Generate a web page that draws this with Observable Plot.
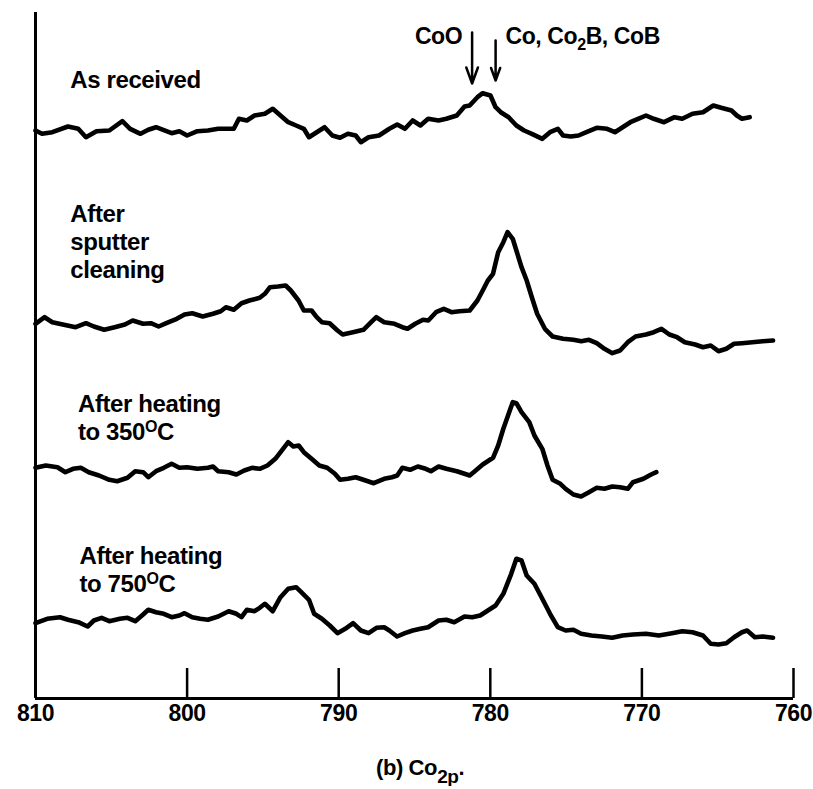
<!DOCTYPE html>
<html>
<head>
<meta charset="utf-8">
<script src="https://cdn.jsdelivr.net/npm/d3@7"></script>
<script src="https://cdn.jsdelivr.net/npm/@observablehq/plot@0.6"></script>
<style>
  html, body { margin: 0; padding: 0; background: #fff; }
  #chart { width: 813px; }
  svg text { letter-spacing: -0.4px; }
  .cap { font-family: "Liberation Sans", Arial, sans-serif; font-weight: bold; font-size: 22px; letter-spacing: -0.4px; color: #000; padding-left: 376px; margin-top: 22px; line-height: 1; }
  .cap sub { font-size: 19px; vertical-align: -8px; }
</style>
</head>
<body>
<div id="chart"></div>
<script>
// Binding energy (eV) and signal (arbitrary units, stacked for display)
const asReceivedE = [810.0, 809.57, 808.89, 807.86, 807.18, 806.67, 805.98, 805.13, 804.27, 803.76, 803.07, 802.56, 802.05, 801.02, 800.51, 800.0, 799.32, 798.63, 797.95, 796.92, 796.58, 796.06, 795.55, 794.87, 794.35, 793.84, 793.33, 792.81, 792.30, 791.96, 791.45, 790.93, 790.42, 789.91, 789.39, 788.88, 788.54, 788.03, 787.34, 786.66, 786.14, 785.63, 785.12, 784.61, 784.10, 783.41, 782.90, 782.21, 781.70, 781.36, 780.85, 780.50, 779.99, 779.65, 779.31, 778.79, 778.28, 777.77, 777.26, 776.57, 776.06, 775.54, 775.20, 774.69, 774.18, 773.66, 772.98, 772.30, 771.78, 771.27, 770.76, 770.25, 769.73, 769.22, 768.54, 767.85, 767.34, 766.66, 765.97, 765.29, 764.77, 764.09, 763.74, 763.40, 762.89];
const asReceivedS = [56.80, 56.47, 56.63, 57.20, 56.97, 56.13, 56.73, 56.80, 57.73, 56.97, 56.47, 56.87, 57.13, 56.53, 56.73, 56.30, 56.73, 56.80, 56.97, 56.97, 57.97, 57.80, 58.30, 58.47, 58.97, 58.30, 57.63, 57.30, 56.97, 56.13, 56.63, 57.13, 56.30, 56.07, 56.47, 56.30, 55.63, 56.13, 56.30, 56.97, 57.40, 56.97, 57.80, 57.30, 57.97, 57.80, 57.97, 58.30, 59.20, 59.30, 60.13, 60.53, 60.30, 59.13, 58.63, 58.13, 57.30, 56.80, 56.47, 55.97, 56.63, 56.97, 56.30, 56.20, 56.30, 56.63, 57.07, 56.97, 56.63, 57.13, 57.63, 57.97, 58.30, 57.97, 57.63, 58.13, 57.97, 58.47, 58.63, 59.30, 59.07, 58.80, 58.30, 57.97, 58.13];

const sputterE = [810.0, 809.40, 808.89, 808.20, 807.35, 806.67, 806.15, 805.47, 804.78, 804.10, 803.59, 802.90, 802.39, 801.88, 801.37, 800.68, 800.17, 799.66, 798.97, 798.29, 797.78, 797.44, 796.92, 796.41, 795.89, 795.21, 794.87, 794.53, 794.01, 793.50, 793.16, 792.65, 792.30, 791.79, 791.45, 791.11, 790.60, 790.08, 789.74, 789.06, 788.37, 787.86, 787.52, 787.00, 786.32, 785.80, 785.46, 784.95, 784.44, 784.09, 783.58, 783.07, 782.56, 782.04, 781.36, 780.85, 780.50, 780.16, 779.82, 779.48, 779.14, 778.86, 778.52, 778.28, 777.94, 777.60, 777.26, 776.91, 776.40, 775.89, 775.20, 774.52, 774.00, 773.49, 772.98, 772.47, 771.95, 771.44, 770.93, 770.42, 769.73, 769.22, 768.71, 768.19, 767.68, 767.17, 766.49, 765.97, 765.46, 764.95, 764.43, 763.92, 763.40, 762.72, 762.03, 761.35];
const sputterS = [37.47, 38.13, 37.63, 37.40, 37.13, 37.53, 37.20, 36.87, 37.13, 37.40, 37.80, 37.47, 37.53, 37.20, 37.53, 37.97, 38.40, 38.53, 38.20, 38.47, 38.73, 39.13, 38.87, 39.53, 39.80, 40.07, 40.47, 41.13, 41.20, 41.30, 40.80, 39.80, 38.80, 38.80, 38.13, 37.63, 37.53, 36.80, 36.40, 36.63, 36.87, 37.63, 38.13, 37.63, 37.47, 37.13, 36.97, 37.47, 37.87, 37.80, 38.63, 38.97, 38.63, 38.73, 38.80, 39.80, 40.80, 41.80, 42.47, 44.63, 45.63, 46.63, 45.97, 44.80, 43.13, 41.80, 40.13, 38.47, 36.97, 36.20, 35.97, 35.87, 35.73, 35.87, 35.53, 34.97, 34.53, 34.80, 35.63, 36.20, 36.40, 36.63, 36.97, 36.40, 36.13, 35.63, 35.40, 35.13, 35.30, 34.73, 34.97, 35.47, 35.53, 35.63, 35.73, 35.80];

const heat350E = [810.0, 809.32, 808.55, 808.03, 807.52, 807.01, 806.49, 805.81, 805.13, 804.61, 803.93, 803.42, 802.90, 802.56, 802.05, 801.54, 801.02, 800.51, 800.0, 799.32, 798.63, 798.29, 797.95, 797.26, 796.75, 796.23, 795.72, 795.21, 794.70, 794.18, 793.67, 793.33, 792.99, 792.64, 792.30, 791.79, 791.28, 790.76, 790.25, 789.91, 789.39, 788.88, 788.37, 787.69, 787.00, 786.49, 786.14, 785.80, 785.29, 784.78, 784.26, 783.92, 783.41, 782.90, 782.21, 781.70, 781.36, 781.02, 780.50, 779.82, 779.48, 779.14, 778.79, 778.52, 778.28, 777.94, 777.43, 777.09, 776.57, 776.23, 775.89, 775.38, 775.03, 774.52, 774.01, 773.49, 772.98, 772.47, 771.95, 771.44, 770.93, 770.59, 769.90, 769.39, 769.05];
const heat350S = [23.07, 23.30, 23.13, 22.63, 22.97, 23.07, 22.63, 22.30, 21.87, 21.73, 22.07, 22.73, 22.63, 22.13, 22.73, 23.07, 23.47, 23.07, 23.13, 22.97, 23.07, 23.20, 22.73, 22.63, 22.40, 22.80, 23.07, 22.97, 23.30, 23.97, 24.97, 25.63, 25.20, 25.30, 24.63, 23.97, 23.30, 23.07, 22.47, 21.87, 21.97, 22.13, 21.87, 21.53, 21.97, 22.13, 22.30, 23.07, 22.87, 23.20, 22.97, 22.73, 23.20, 22.97, 22.73, 22.47, 22.30, 22.73, 23.40, 24.07, 25.30, 26.97, 28.47, 29.63, 29.53, 28.63, 27.63, 26.30, 24.97, 23.30, 21.87, 21.47, 20.97, 20.40, 20.20, 20.63, 21.07, 20.97, 21.20, 21.13, 20.97, 21.63, 21.97, 22.40, 22.63];

const heat750E = [810.0, 809.23, 808.38, 807.86, 807.18, 806.56, 806.15, 805.64, 805.13, 804.44, 803.93, 803.42, 802.90, 802.56, 802.05, 801.54, 801.02, 800.51, 800.17, 799.66, 799.14, 798.63, 797.95, 797.26, 796.75, 796.41, 796.06, 795.55, 795.21, 794.87, 794.35, 793.84, 793.33, 792.81, 792.47, 791.96, 791.62, 791.11, 790.59, 790.08, 789.57, 789.05, 788.54, 788.03, 787.51, 787.00, 786.66, 786.15, 785.63, 785.12, 784.61, 784.10, 783.41, 782.90, 782.38, 781.70, 781.19, 780.67, 780.16, 779.65, 779.14, 778.62, 778.28, 777.94, 777.60, 777.09, 776.57, 776.06, 775.55, 775.03, 774.52, 774.01, 773.33, 772.64, 771.96, 771.27, 770.59, 769.73, 768.88, 768.02, 767.34, 766.66, 765.97, 765.46, 764.95, 764.43, 763.92, 763.40, 763.06, 762.55, 762.03, 761.35];
const heat750S = [7.53, 7.97, 8.13, 7.87, 7.63, 7.20, 7.80, 8.07, 7.73, 7.97, 8.07, 7.73, 8.40, 8.87, 8.63, 8.47, 8.13, 8.30, 8.53, 8.13, 7.97, 7.87, 8.20, 8.73, 8.47, 8.13, 8.87, 8.73, 9.07, 9.47, 8.73, 10.13, 10.97, 11.13, 10.63, 9.87, 8.47, 7.97, 7.30, 6.53, 6.97, 7.53, 6.80, 6.53, 7.07, 7.13, 6.80, 6.20, 6.53, 6.80, 6.97, 7.13, 7.80, 7.87, 7.63, 8.20, 8.13, 8.30, 8.80, 9.30, 10.47, 12.47, 13.97, 13.80, 12.30, 11.47, 9.97, 8.47, 7.13, 6.80, 6.87, 6.47, 6.30, 6.20, 6.07, 6.30, 6.40, 6.47, 6.30, 6.53, 6.73, 6.63, 6.30, 5.47, 5.40, 5.53, 6.13, 6.63, 6.80, 6.13, 6.20, 6.07];

const xTicks = [810, 800, 790, 780, 770, 760];
const peakMarks = [781.2, 779.65];           // CoO, Co / Co2B / CoB
const peakNames = ["CoO", "Co, Co_{2}B, CoB"];
const spectrumNames = ["As received", "After sputter cleaning", "After heating to 350°C", "After heating to 750°C"];

const series = [
  [asReceivedE, asReceivedS],
  [sputterE, sputterS],
  [heat350E, heat350S],
  [heat750E, heat750S]
];
const rows = series.flatMap(([E, S], k) => E.map((e, i) => ({name: spectrumNames[k], energy: e, signal: S[i]})));

// label lines (text, energy at left edge, signal level)
const labelLines = [
  {t: "As received", x: 807.7, y: 61.8},
  {t: "After", x: 807.7, y: 48.4},
  {t: "sputter", x: 807.7, y: 45.6},
  {t: "cleaning", x: 807.7, y: 42.8},
  {t: "After heating", x: 807.2, y: 29.4},
  {t: "to 350^{O}C", x: 807.2, y: 26.6},
  {t: "After heating", x: 807.1, y: 14.2},
  {t: "to 750^{O}C", x: 807.1, y: 11.4}
];

const FONT = '"Liberation Sans", Arial, sans-serif';

const plot = Plot.plot({
  width: 813,
  height: 735,
  marginLeft: 35,
  marginRight: 20,
  marginTop: 8,
  marginBottom: 37,
  style: {fontFamily: FONT, fontWeight: "bold", background: "#fff", color: "#000"},
  x: {domain: [810, 760], axis: null},
  y: {domain: [0, 69], axis: null},
  marks: [
    Plot.ruleX([810], {y1: 0, y2: 68.6, stroke: "#000", strokeWidth: 3}),
    Plot.ruleY([0], {x1: 810, x2: 760, stroke: "#000", strokeWidth: 3}),
    Plot.ruleX(xTicks.slice(1), {x: d => d, y1: 0, y2: 3, stroke: "#000", strokeWidth: 2.5}),
    Plot.text(xTicks, {x: d => d, y: 0, text: d => String(d), dy: 15, fontSize: 23, fill: "#000", fontWeight: "bold"}),
    Plot.line(rows, {x: "energy", y: "signal", z: "name", stroke: "#000", strokeWidth: 4.6, strokeLinejoin: "round", strokeLinecap: "round"}),
    Plot.arrow(peakMarks, {x1: d => d, x2: d => d, y1: [66.6, 65.8], y2: [61.5, 61.8], stroke: "#000", strokeWidth: 2.5, headLength: 14, headAngle: 40}),
    Plot.text([peakNames[0]], {x: 781.85, y: 66.2, text: d => d, textAnchor: "end", fontSize: 23, fill: "#000"}),
    Plot.text([peakNames[1]], {x: 779.0, y: 66.2, text: d => d, textAnchor: "start", fontSize: 23, fill: "#000"}),
    Plot.text(labelLines, {x: "x", y: "y", text: "t", textAnchor: "start", fontSize: 24, fill: "#000"})
  ]
});

// rich text: _{..} subscript, ^{..} superscript
d3.select(plot).selectAll("text").each(function() {
  const s = this.textContent;
  if (!/[_^]\{/.test(s)) return;
  const el = d3.select(this);
  el.text(null);
  const re = /([_^])\{([^}]*)\}/g;
  let last = 0, m, shift = 0;
  const add = (txt, dy, size) => {
    const ts = el.append("tspan").text(txt);
    if (dy) ts.attr("dy", dy + "px");
    if (size) ts.attr("font-size", size);
  };
  while ((m = re.exec(s))) {
    if (m.index > last) { add(s.slice(last, m.index), -shift); shift = 0; }
    const d = m[1] === "_" ? 6 : -8;
    add(m[2], d - shift, 16);
    shift = d;
    last = re.lastIndex;
  }
  if (last < s.length) add(s.slice(last), -shift);
});

const wrap = document.getElementById("chart");
wrap.appendChild(plot);
const cap = document.createElement("div");
cap.className = "cap";
cap.innerHTML = "(b) Co<sub>2p</sub>.";
wrap.appendChild(cap);
</script>
</body>
</html>
